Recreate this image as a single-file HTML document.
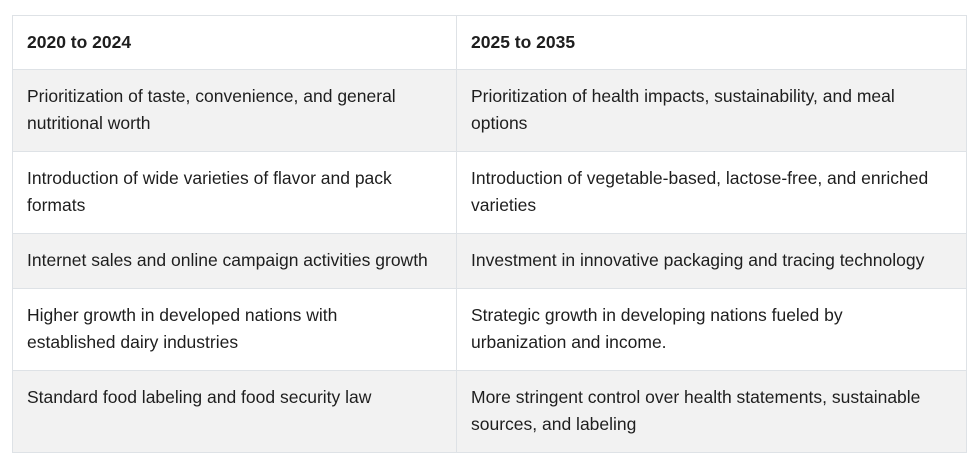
<!DOCTYPE html>
<html><head><meta charset="utf-8"><style>
body{margin:0;width:970px;height:460px;background:#fff;font-family:"Liberation Sans",sans-serif;color:#1e1e1e;}
table{position:absolute;left:12px;top:15px;width:954px;border-collapse:collapse;table-layout:fixed;}
td,th{border:1px solid #dee2e6;padding:0 14px;font-size:17.5px;line-height:27px;text-align:left;vertical-align:top;white-space:nowrap;}
th{font-weight:bold;height:54px;vertical-align:middle;box-sizing:border-box;}
tr.g td{background:#f2f2f2;}
tr.t td{height:82px;padding-top:13px;box-sizing:border-box;}
tr.s td{height:55px;padding-top:13px;box-sizing:border-box;}
</style></head><body>
<table>
<colgroup><col style="width:444px"><col style="width:510px"></colgroup>
<tr><th>2020 to 2024</th><th>2025 to 2035</th></tr>
<tr class="g t"><td>Prioritization of taste, convenience, and general<br>nutritional worth</td><td>Prioritization of health impacts, sustainability, and meal<br>options</td></tr>
<tr class="t"><td>Introduction of wide varieties of flavor and pack<br>formats</td><td>Introduction of vegetable-based, lactose-free, and enriched<br>varieties</td></tr>
<tr class="g s"><td>Internet sales and online campaign activities growth</td><td>Investment in innovative packaging and tracing technology</td></tr>
<tr class="t"><td>Higher growth in developed nations with<br>established dairy industries</td><td>Strategic growth in developing nations fueled by<br>urbanization and income.</td></tr>
<tr class="g t"><td>Standard food labeling and food security law</td><td>More stringent control over health statements, sustainable<br>sources, and labeling</td></tr>
</table>
</body></html>
